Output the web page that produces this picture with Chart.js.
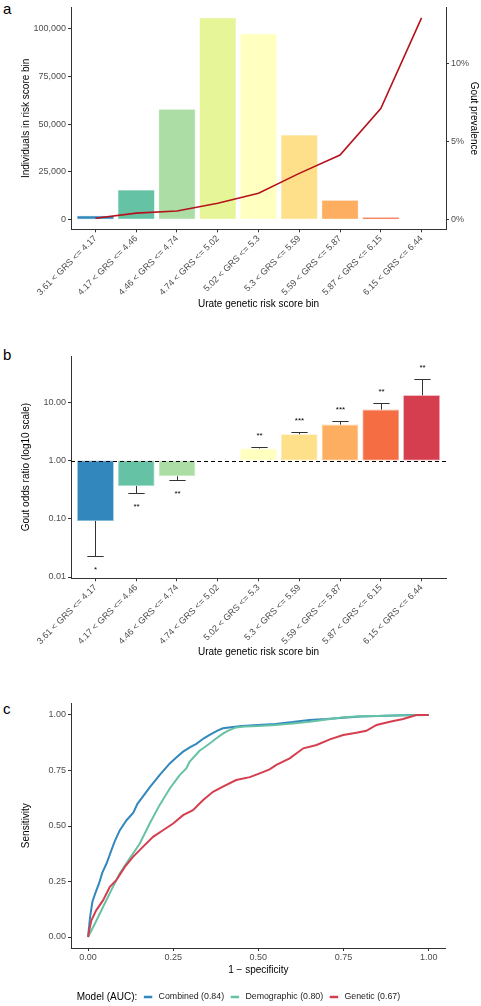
<!DOCTYPE html>
<html>
<head>
<meta charset="utf-8">
<script src="https://cdn.jsdelivr.net/npm/chart.js@4.4.1/dist/chart.umd.min.js"></script>
<style>
  body { margin: 0; background: #fff; width: 481px; height: 1006px; position: relative; overflow: hidden; font-family: 'Liberation Sans', Arial, sans-serif; }
  canvas { position: absolute; left: 0; }
  .tag { position: absolute; left: 3px; font-size: 15px; line-height: 1; color: #000; }
</style>
</head>
<body>
<div class="tag" style="top:1px">a</div>
<div class="tag" style="top:347px">b</div>
<div class="tag" style="top:701px">c</div>
<canvas id="binChart" width="481" height="314" style="top:0"></canvas>
<canvas id="orChart" width="481" height="332" style="top:330px"></canvas>
<canvas id="rocChart" width="481" height="346" style="top:660px"></canvas>
<script>
// risk score bins
var binLabels = ['3.61 < GRS <= 4.17', '4.17 < GRS <= 4.46', '4.46 < GRS <= 4.74',
  '4.74 < GRS <= 5.02', '5.02 < GRS <= 5.3', '5.3 < GRS <= 5.59',
  '5.59 < GRS <= 5.87', '5.87 < GRS <= 6.15', '6.15 < GRS <= 6.44'];
var binColours = ['#3288bd', '#66c2a5', '#abdda4', '#e6f598', '#ffffbf',
  '#fee08b', '#fdae61', '#f46d43', '#d53e4f'];

// panel a
var binCounts = [2100, 15600, 57700, 105600, 97200, 44300, 10200, 1300, 200];
var goutPrevalence = [0.11, 0.43, 0.57, 1.06, 1.70, 2.97, 4.14, 7.11, 12.9];
var countTicks = [0, 25000, 50000, 75000, 100000];
var prevalenceTicks = [0, 5, 10];

// panel b (bin 4 is the reference)
var oddsRatio = [0.092, 0.366, 0.538, null, 1.61, 2.83, 4.14, 7.50, 13.2];
var oddsBound = [0.023, 0.278, 0.459, null, 1.71, 3.10, 4.78, 9.72, 25.5];
var oddsStars = ['*', '**', '**', '', '**', '***', '***', '**', '**'];
var oddsTicks = [0.01, 0.1, 1, 10];

// panel c
var modelNames = ['Combined', 'Demographic', 'Genetic'];
var modelAuc = ['0.84', '0.80', '0.67'];
var modelColours = ['#3288bd', '#66c2a5', '#d53e4f'];
var combinedFpr = [0, 0.006, 0.013, 0.022, 0.032, 0.042, 0.054, 0.066, 0.078, 0.093, 0.113, 0.133,
  0.145, 0.157, 0.181, 0.21, 0.24, 0.26, 0.279, 0.3, 0.318, 0.34, 0.357, 0.38, 0.396, 0.42, 0.45,
  0.5, 0.55, 0.6, 0.65, 0.7, 0.75, 0.8, 0.85, 0.9, 0.95, 1];
var combinedTpr = [0, 0.09, 0.16, 0.2, 0.24, 0.29, 0.33, 0.38, 0.43, 0.48, 0.526, 0.56,
  0.6, 0.624, 0.674, 0.729, 0.782, 0.81, 0.835, 0.855, 0.87, 0.895, 0.91, 0.93, 0.94, 0.945, 0.95,
  0.955, 0.96, 0.968, 0.978, 0.982, 0.988, 0.993, 0.996, 0.998, 1, 1];
var demographicFpr = [0, 0.02, 0.044, 0.068, 0.093, 0.122, 0.152, 0.181, 0.21, 0.24, 0.269, 0.289,
  0.298, 0.328, 0.338, 0.36, 0.377, 0.395, 0.406, 0.42, 0.435, 0.46, 0.5, 0.55, 0.6, 0.65, 0.7,
  0.75, 0.8, 0.85, 0.9, 0.95, 1];
var demographicTpr = [0, 0.06, 0.135, 0.21, 0.286, 0.353, 0.421, 0.511, 0.594, 0.669, 0.729, 0.76,
  0.789, 0.84, 0.85, 0.875, 0.895, 0.915, 0.925, 0.935, 0.944, 0.948, 0.95, 0.955, 0.962, 0.97, 0.98,
  0.99, 0.994, 0.996, 0.998, 0.999, 1];
var geneticFpr = [0, 0.005, 0.01, 0.024, 0.044, 0.064, 0.083, 0.108, 0.132, 0.161, 0.191, 0.22,
  0.25, 0.279, 0.308, 0.338, 0.367, 0.396, 0.435, 0.475, 0.504, 0.533, 0.553, 0.592, 0.632, 0.671,
  0.71, 0.749, 0.788, 0.817, 0.847, 0.886, 0.925, 0.964, 1];
var geneticTpr = [0, 0.04, 0.075, 0.12, 0.165, 0.226, 0.256, 0.316, 0.361, 0.406, 0.451, 0.481,
  0.511, 0.549, 0.571, 0.617, 0.654, 0.677, 0.707, 0.72, 0.737, 0.755, 0.775, 0.805, 0.85, 0.865,
  0.89, 0.91, 0.92, 0.929, 0.955, 0.97, 0.982, 1, 1];
var rocTicks = [0, 0.25, 0.5, 0.75, 1];

var FONT = "'Liberation Sans', Arial, Helvetica, sans-serif";
var AXIS_COL = '#333333';
var TICK_TXT = '#4d4d4d';

Chart.defaults.font.family = FONT;

// lighter tint of a bin colour, used for the bar outline
function tint(hex, amount) {
  var m = /^#?([a-f\d]{2})([a-f\d]{2})([a-f\d]{2})$/i.exec(hex);
  var rgb = [1, 2, 3].map(function(k) {
    var c = parseInt(m[k], 16);
    return Math.round(c + (255 - c) * amount);
  });
  return 'rgb(' + rgb.join(',') + ')';
}

function setTicks(values) {
  return function(scale) {
    scale.ticks = values.map(function(v) { return { value: v }; });
  };
}

function axisBase(title, titlePad) {
  return {
    ticks: { color: TICK_TXT, font: { size: 9 }, padding: 2 },
    grid: { display: true, drawOnChartArea: false, drawTicks: true, tickLength: 3, color: AXIS_COL },
    border: { display: true, color: AXIS_COL, width: 1 },
    title: { display: true, text: title, color: '#000', font: { size: 10 }, padding: titlePad }
  };
}

function binAxis(height) {
  var ax = axisBase('Urate genetic risk score bin', { top: 4, bottom: 4 });
  ax.type = 'linear';
  ax.min = -0.6;
  ax.max = 8.6;
  ax.offset = false;
  ax.grid.offset = false;
  ax.ticks.autoSkip = false;
  ax.ticks.minRotation = 45;
  ax.ticks.maxRotation = 45;
  ax.ticks.padding = 1;
  ax.ticks.callback = function(v) { return binLabels[v]; };
  ax.afterBuildTicks = setTicks(binLabels.map(function(_, i) { return i; }));
  ax.afterFit = function(s) { s.height = height; };
  return ax;
}

function yAxis(title, pad, width, min, max, ticks, fmt, pos) {
  var ax = axisBase(title, { top: pad, bottom: 0 });
  ax.type = 'linear';
  ax.position = pos || 'left';
  ax.min = min;
  ax.max = max;
  ax.ticks.callback = fmt;
  ax.afterBuildTicks = setTicks(ticks);
  ax.afterFit = function(s) { s.width = width; };
  return ax;
}

var common = {
  responsive: false,
  animation: false,
  devicePixelRatio: 1,
  events: [],
  plugins: { legend: { display: false }, tooltip: { enabled: false } }
};

// ---- a: counts per bin with prevalence line
var yCount = yAxis('Individuals in risk score bin', 20.7, 71, -5000, 111000, countTicks,
  function(v) { return v.toLocaleString('en-US'); });
var yPrev = yAxis('Gout prevalence', 1.7, 35, -0.6, 13.57, prevalenceTicks,
  function(v) { return v + '%'; }, 'right');

new Chart(document.getElementById('binChart'), {
  type: 'bar',
  data: {
    datasets: [{
      type: 'line',
      data: goutPrevalence.map(function(p, i) { return { x: i, y: p }; }),
      yAxisID: 'y1',
      borderColor: '#b5121b',
      borderWidth: 1.6,
      pointRadius: 0,
      tension: 0,
      order: 0
    }, {
      type: 'bar',
      data: binCounts.map(function(c, i) { return { x: i, y: c }; }),
      yAxisID: 'y',
      backgroundColor: binColours,
      borderColor: binColours.map(function(c) { return tint(c, 0.35); }),
      borderWidth: 0.5,
      borderSkipped: false,
      barPercentage: 0.9,
      categoryPercentage: 1,
      order: 1
    }]
  },
  options: Object.assign({}, common, {
    layout: { padding: { top: 7, left: 0, right: 0, bottom: 0 } },
    scales: { x: binAxis(84.7), y: yCount, y1: yPrev }
  })
});

// ---- b: odds ratios on log scale
var orMarks = {
  id: 'orMarks',
  afterDatasetsDraw: function(chart) {
    var ctx = chart.ctx, area = chart.chartArea;
    var x = chart.scales.x, y = chart.scales.y;
    ctx.save();
    var base = Math.round(y.getPixelForValue(1)) + 0.5;
    ctx.strokeStyle = '#000';
    ctx.lineWidth = 1;
    ctx.setLineDash([4, 3]);
    ctx.beginPath();
    ctx.moveTo(area.left, base);
    ctx.lineTo(area.right, base);
    ctx.stroke();
    ctx.setLineDash([]);
    ctx.strokeStyle = AXIS_COL;
    ctx.fillStyle = '#000';
    ctx.font = '8px ' + FONT;
    ctx.textAlign = 'center';
    ctx.textBaseline = 'alphabetic';
    oddsRatio.forEach(function(v, i) {
      if (v === null) return;
      var px = Math.round(x.getPixelForValue(i)) + 0.5;
      var half = x.getPixelForValue(i + 0.2) - x.getPixelForValue(i);
      var pv = y.getPixelForValue(v);
      var pb = Math.round(y.getPixelForValue(oddsBound[i])) + 0.5;
      ctx.beginPath();
      ctx.moveTo(px, pv);
      ctx.lineTo(px, pb);
      ctx.moveTo(px - half, pb);
      ctx.lineTo(px + half, pb);
      ctx.stroke();
      var up = v > 1;
      ctx.fillText(oddsStars[i], px, up ? pb - 9.6 : pb + 15.4);
    });
    ctx.restore();
  }
};

var yOdds = yAxis('Gout odds ratio (log10 scale)', 20.7, 71, 0.0095, 62.4, oddsTicks,
  function(v) { return v.toFixed(2); });
yOdds.type = 'logarithmic';

new Chart(document.getElementById('orChart'), {
  type: 'bar',
  data: {
    datasets: [{
      data: oddsRatio.map(function(v, i) { return { x: i, y: v }; })
        .filter(function(d) { return d.y !== null; })
        .map(function(d) { return { x: d.x, y: [1, d.y] }; }),
      backgroundColor: function(c) { return binColours[c.raw.x]; },
      borderColor: function(c) { return tint(binColours[c.raw.x], 0.4); },
      borderWidth: 0.8,
      borderSkipped: false,
      barPercentage: 0.9,
      categoryPercentage: 1
    }]
  },
  options: Object.assign({}, common, {
    layout: { padding: { top: 26, left: 0, right: 35, bottom: 0 } },
    scales: { x: binAxis(83.7), y: yOdds }
  }),
  plugins: [orMarks]
});

// ---- c: ROC curves
var rocLegend = {
  id: 'rocLegend',
  afterDraw: function(chart) {
    var ctx = chart.ctx;
    var mid = chart.height - 9;
    var xPos = 76.7;
    var title = 'Model (AUC):';
    ctx.save();
    ctx.textBaseline = 'middle';
    ctx.textAlign = 'left';
    ctx.font = '10px ' + FONT;
    ctx.fillStyle = '#000';
    ctx.fillText(title, xPos, mid);
    xPos += ctx.measureText(title).width + 6.6;
    ctx.font = '8.8px ' + FONT;
    chart.data.datasets.forEach(function(ds) {
      ctx.strokeStyle = ds.borderColor;
      ctx.lineWidth = 2.5;
      ctx.beginPath();
      ctx.moveTo(xPos, mid);
      ctx.lineTo(xPos + 8.4, mid);
      ctx.stroke();
      xPos += 8.4 + 6.3;
      ctx.fillStyle = '#222';
      ctx.fillText(ds.label, xPos, mid);
      xPos += ctx.measureText(ds.label).width + 6.6;
    });
    ctx.restore();
  }
};

function rocPoints(fpr, tpr) {
  return fpr.map(function(f, i) { return { x: f, y: tpr[i] }; });
}
var rocSeries = [[combinedFpr, combinedTpr], [demographicFpr, demographicTpr], [geneticFpr, geneticTpr]];

var xRoc = yAxis('1 \u2212 specificity', 0, 0, -0.05, 1.05, rocTicks,
  function(v) { return v.toFixed(2); }, 'bottom');
xRoc.title.padding = { top: 4, bottom: 4 };
xRoc.ticks.padding = 1;
xRoc.afterFit = function(s) { s.height = 32; };
var yRoc = yAxis('Sensitivity', 20.7, 71, -0.0495, 1.0527, rocTicks,
  function(v) { return v.toFixed(2); });

new Chart(document.getElementById('rocChart'), {
  type: 'line',
  data: {
    datasets: rocSeries.map(function(s, k) {
      return {
        label: modelNames[k] + ' (' + modelAuc[k] + ')',
        data: rocPoints(s[0], s[1]),
        borderColor: modelColours[k],
        borderWidth: 2,
        pointRadius: 0,
        tension: 0,
        order: 2 - k
      };
    })
  },
  options: Object.assign({}, common, {
    layout: { padding: { top: 43.3, left: 0, right: 35.3, bottom: 26 } },
    scales: { x: xRoc, y: yRoc }
  }),
  plugins: [rocLegend]
});
</script>
</body>
</html>
